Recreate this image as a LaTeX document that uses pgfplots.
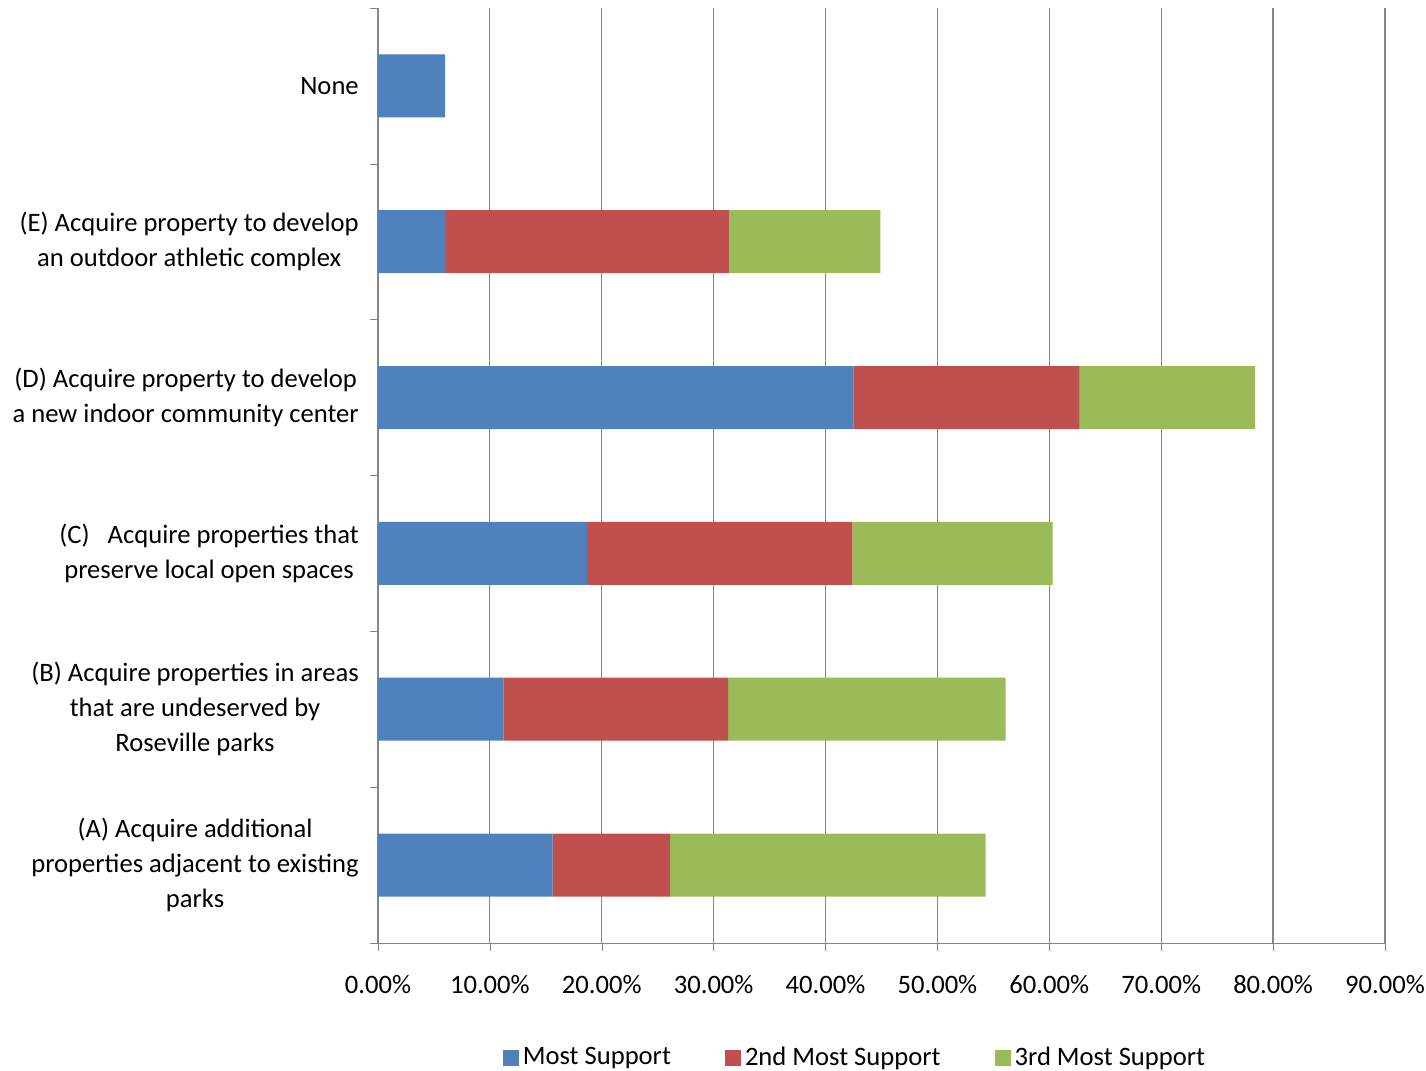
\documentclass[border=0pt]{standalone}
\usepackage{pgfplots}
\pgfplotsset{compat=1.18}
\usepackage{fontspec}
\setmainfont{Carlito}
\definecolor{cblue}{HTML}{4F81BD}
\definecolor{cred}{HTML}{C0504D}
\definecolor{cgreen}{HTML}{9BBB59}
\definecolor{gridc}{HTML}{868686}
\begin{document}
\fontsize{13.3pt}{17.5pt}\selectfont
\begin{tikzpicture}
\useasboundingbox (-189pt,-64pt) rectangle (524pt,471.5pt);
\begin{axis}[
    at={(0,0)}, anchor=south west,
    scale only axis,
    width=503.5pt, height=467.5pt,
    xbar stacked,
    bar width=31.5pt,
    xmin=0, xmax=90,
    ymin=-0.5, ymax=5.5,
    axis lines=left,
    axis line style={-, draw=gridc},
    xtick={0,10,...,90},
    xmajorgrids,
    grid style={draw=gridc, line width=0.6pt},
    tick align=outside,
    major tick length=4pt,
    minor tick length=4pt,
    tick style={draw=gridc},
    xticklabel={\pgfmathprintnumber[fixed,fixed zerofill,precision=2]{\tick}\%},
    /pgf/number format/assume math mode=true,
    xticklabel style={yshift=-7.5pt, font=\fontsize{13.3pt}{17pt}\selectfont},
    ytick={0,1,2,3,4,5},
    yticklabels={
        {(A) Acquire additional\\properties adjacent to existing\\parks},
        {(B) Acquire properties in areas\\that are undeserved by\\Roseville parks},
        {(C)\ \ \ Acquire properties that\\preserve local open spaces},
        {(D) Acquire property to develop\\a new indoor community center},
        {(E) Acquire property to develop\\an outdoor athletic complex},
        {None}},
    yticklabel style={align=center, font=\fontsize{13.3pt}{17.5pt}\selectfont, xshift=-1pt},
    y tick style={draw=none},
    minor ytick={-0.5,0.5,...,5.5},
    minor y tick style={draw=gridc},
    legend style={at={(0.4747,-0.123)}, anchor=center, draw=none,
        legend columns=3, font=\fontsize{13.3pt}{17pt}\selectfont,
        /tikz/every even column/.append style={column sep=25pt}},
    legend image code/.code={\fill[#1] (0pt,-4pt) rectangle (8pt,4pt);},
]
\addplot[fill=cblue, draw=none] coordinates {(15.6,0) (11.2,1) (18.7,2) (42.5,3) (6.0,4) (6.0,5)};
\addplot[fill=cred, draw=none] coordinates {(10.5,0) (20.1,1) (23.7,2) (20.2,3) (25.4,4) (0,5)};
\addplot[fill=cgreen, draw=none] coordinates {(28.2,0) (24.8,1) (17.9,2) (15.7,3) (13.5,4) (0,5)};
\legend{Most Support, 2nd Most Support, 3rd Most Support}
\end{axis}
\end{tikzpicture}
\end{document}
